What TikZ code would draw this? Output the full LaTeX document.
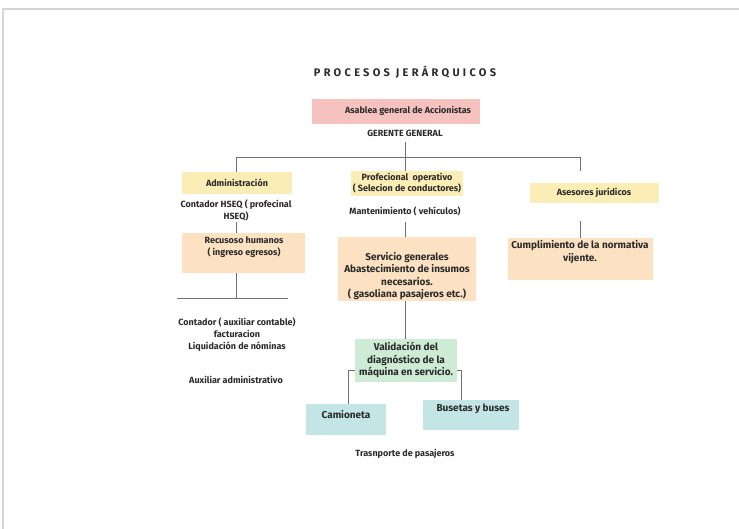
\documentclass[tikz,border=0pt]{standalone}
\usepackage{fontspec}
\setmainfont{Fira Sans}
\usetikzlibrary{positioning}

\definecolor{rosa}{HTML}{F5C2BF}
\definecolor{amarillo}{HTML}{FAEDB5}
\definecolor{naranja}{HTML}{FCE1C2}
\definecolor{verde}{HTML}{CDEBD5}
\definecolor{celeste}{HTML}{C3E5E5}
\definecolor{texto}{HTML}{2A2A2A}
\definecolor{linea}{HTML}{707070}
\definecolor{marco}{HTML}{D6D6D6}

\tikzset{
  caja/.style={rectangle, fill=#1, inner sep=0pt},
  txt/.style={align=center, text=texto, inner sep=0pt,
    font=\bfseries\fontsize{9}{12}\selectfont},
  txtg/.style={txt, font=\bfseries\fontsize{10}{12.5}\selectfont},
  rama/.style={draw=linea, line width=0.9pt},
}

\begin{document}
\begin{tikzpicture}[x=1pt, y=-1pt]
    \useasboundingbox (0,0) rectangle (739,529);
    \draw[marco, line width=1.5pt] (3,529) -- (3,9) -- (739,9);

    \node[txt, font=\bfseries\fontsize{11}{12}\selectfont\addfontfeatures{LetterSpace=30}] (titulo) at (405,72) {PROCESOS JERÁRQUICOS};

    % cajas
    \node[caja=rosa, minimum width=168pt, minimum height=25pt] (asamblea) at (396,111.5) {};
    \node[caja=amarillo, minimum width=110pt, minimum height=22pt] (adm) at (237,183) {};
    \node[caja=naranja, minimum width=123pt, minimum height=40pt] (rrhh) at (243.5,253) {};
    \node[caja=amarillo, minimum width=112pt, minimum height=25pt] (operativo) at (407,183.5) {};
    \node[caja=naranja, minimum width=138pt, minimum height=64pt] (servicio) at (407,269) {};
    \node[caja=verde, minimum width=102pt, minimum height=43pt] (validacion) at (406,360.5) {};
    \node[caja=celeste, minimum width=80pt, minimum height=31pt] (camioneta) at (346,419.5) {};
    \node[caja=celeste, minimum width=96pt, minimum height=30pt] (busetas) at (471,415) {};
    \node[caja=amarillo, minimum width=129pt, minimum height=20pt] (asesores) at (594.5,193) {};
    \node[caja=naranja, minimum width=145pt, minimum height=42pt] (cumplimiento) at (580.5,259) {};

    % textos
    \node[txt] (asamblea-t) at (408,111) {Asablea general de Accionistas};
    \node[txt] (gerente) at (405,133) {GERENTE GENERAL};
    \node[txt] (adm-t) at (237,183) {Administración};
    \node[txt] (hseq) at (236,210) {Contador HSEQ ( profecinal\\HSEQ)};
    \node[txt] (rrhh-t) at (244,247) {Recusoso humanos\\( ingreso egresos)};
    \node[txt] (contador) at (237,335) {Contador ( auxiliar contable)\\facturacion\\Liquidación de nóminas};
    \node[txt] (auxiliar) at (236,380) {Auxiliar administrativo};
    \node[txt, font=\bfseries\fontsize{9}{11}\selectfont] (operativo-t) at (407,183) {Profecional~ operativo\\( Selecion de conductores)};
    \node[txt] (mantenimiento) at (405,211) {Mantenimiento ( vehículos)};
    \node[txtg] (servicio-t) at (407,276) {Servicio generales\\Abastecimiento de insumos\\necesarios.\\( gasoliana pasajeros etc.)};
    \node[txtg] (validacion-t) at (406,360) {Validación del\\diagnóstico de la\\máquina en servicio.};
    \node[txtg] (camioneta-t) at (346,415) {Camioneta};
    \node[txtg] (busetas-t) at (473,409) {Busetas y buses};
    \node[txt] (transporte) at (405,454) {Trasnporte de pasajeros};
    \node[txt] (asesores-t) at (594,193) {Asesores jurídicos};
    \node[txtg] (cumplimiento-t) at (580,252) {Cumplimiento de la normativa\\vijente.};

    % conectores
    \coordinate (bus) at (405,157);
    \coordinate (busL) at (236,157);
    \coordinate (busR) at (580,157);
    \coordinate (baseL) at (177,298);
    \coordinate (baseR) at (288,298);
    \draw[rama] ([yshift=-6pt]gerente.south) -- (bus);
    \draw[rama] (adm.north -| busL) -- (busL) -- (busR) -- ++(0,14);
    \draw[rama] (bus) -- (operativo.north -| bus);
    \draw[rama] (rrhh.north -| busL) -- ++(0,-11);
    \draw[rama] (rrhh.south -| busL) -- (busL |- baseL);
    \draw[rama] (baseL) -- (baseR);
    \draw[rama] (servicio.north -| bus) -- ++(0,-15);
    \draw[rama] (servicio.south -| bus) -- (validacion.north -| bus);
    \draw[rama] ([yshift=-9.5pt]validacion.west) -| ([xshift=2pt]camioneta.north);
    \draw[rama] ([yshift=-9.5pt]validacion.east) -| ([xshift=-10pt]busetas.north);
    \draw[rama] (cumplimiento.north) -- ++(0,-17);
\end{tikzpicture}
\end{document}
